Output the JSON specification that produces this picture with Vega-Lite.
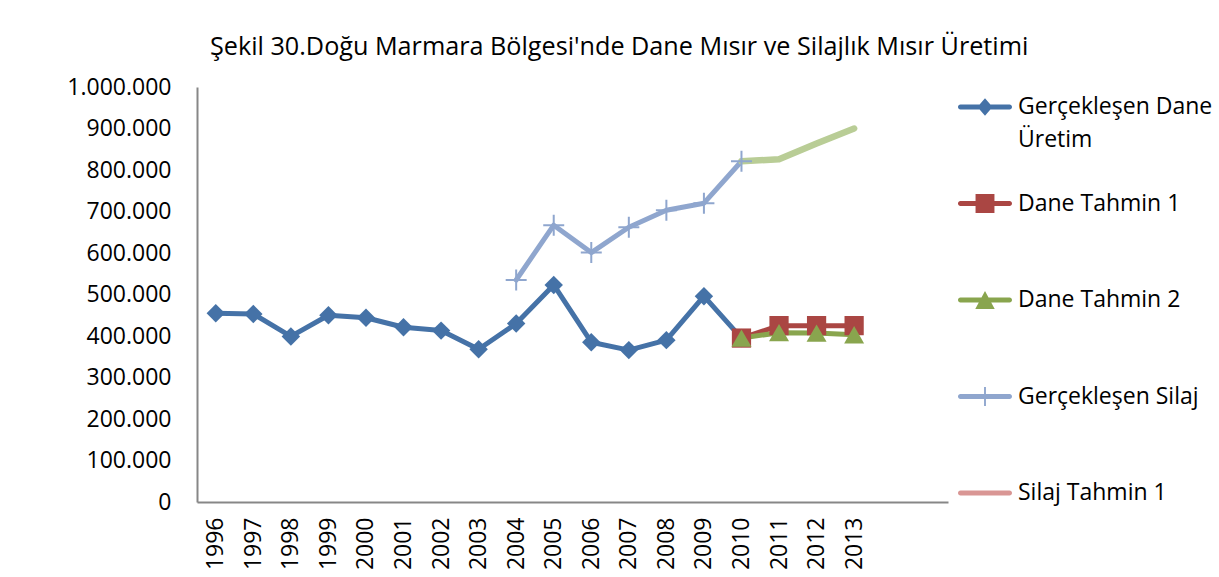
{
  "$schema": "https://vega.github.io/schema/vega-lite/v6.json",
  "width": 751,
  "height": 415,
  "autosize": {"type": "none"},
  "padding": {"left": 197, "top": 87, "right": 271, "bottom": 75},
  "background": "white",
  "title": {
    "text": "Şekil 30.Doğu Marmara Bölgesi'nde Dane Mısır ve Silajlık Mısır  Üretimi",
    "anchor": "start",
    "frame": "group",
    "dx": 13,
    "offset": 16,
    "font": "Open Sans",
    "fontSize": 25.2,
    "fontWeight": "normal",
    "color": "#000000"
  },
  "config": {
    "view": {"stroke": null},
    "font": "Open Sans",
    "locale": {"number": {"decimal": ",", "thousands": ".", "grouping": [3], "currency": ["", " TL"]}}
  },
  "data": {
    "values": [
      {"year": "1996", "series": "Gerçekleşen Dane Üretim", "value": 455000},
      {"year": "1997", "series": "Gerçekleşen Dane Üretim", "value": 453000},
      {"year": "1998", "series": "Gerçekleşen Dane Üretim", "value": 399000},
      {"year": "1999", "series": "Gerçekleşen Dane Üretim", "value": 450000},
      {"year": "2000", "series": "Gerçekleşen Dane Üretim", "value": 444000},
      {"year": "2001", "series": "Gerçekleşen Dane Üretim", "value": 421000},
      {"year": "2002", "series": "Gerçekleşen Dane Üretim", "value": 413000},
      {"year": "2003", "series": "Gerçekleşen Dane Üretim", "value": 368000},
      {"year": "2004", "series": "Gerçekleşen Dane Üretim", "value": 430000},
      {"year": "2005", "series": "Gerçekleşen Dane Üretim", "value": 523000},
      {"year": "2006", "series": "Gerçekleşen Dane Üretim", "value": 385000},
      {"year": "2007", "series": "Gerçekleşen Dane Üretim", "value": 366000},
      {"year": "2008", "series": "Gerçekleşen Dane Üretim", "value": 390000},
      {"year": "2009", "series": "Gerçekleşen Dane Üretim", "value": 496000},
      {"year": "2010", "series": "Gerçekleşen Dane Üretim", "value": 395000},
      {"year": "2010", "series": "Dane Tahmin 1", "value": 395000},
      {"year": "2011", "series": "Dane Tahmin 1", "value": 425000},
      {"year": "2012", "series": "Dane Tahmin 1", "value": 425000},
      {"year": "2013", "series": "Dane Tahmin 1", "value": 425000},
      {"year": "2010", "series": "Dane Tahmin 2", "value": 395000},
      {"year": "2011", "series": "Dane Tahmin 2", "value": 408000},
      {"year": "2012", "series": "Dane Tahmin 2", "value": 407000},
      {"year": "2013", "series": "Dane Tahmin 2", "value": 403000},
      {"year": "2004", "series": "Gerçekleşen Silaj", "value": 535000},
      {"year": "2005", "series": "Gerçekleşen Silaj", "value": 667000},
      {"year": "2006", "series": "Gerçekleşen Silaj", "value": 601000},
      {"year": "2007", "series": "Gerçekleşen Silaj", "value": 662000},
      {"year": "2008", "series": "Gerçekleşen Silaj", "value": 703000},
      {"year": "2009", "series": "Gerçekleşen Silaj", "value": 720000},
      {"year": "2010", "series": "Gerçekleşen Silaj", "value": 821000},
      {"year": "2010", "series": "Silaj Tahmin 1", "value": 821000},
      {"year": "2011", "series": "Silaj Tahmin 1", "value": 826000},
      {"year": "2012", "series": "Silaj Tahmin 1", "value": 864000},
      {"year": "2013", "series": "Silaj Tahmin 1", "value": 900000},
      {"year": "2010", "series": "Silaj Tahmin 2", "value": 821000},
      {"year": "2011", "series": "Silaj Tahmin 2", "value": 826000},
      {"year": "2012", "series": "Silaj Tahmin 2", "value": 864000},
      {"year": "2013", "series": "Silaj Tahmin 2", "value": 900000}
    ]
  },
  "encoding": {
    "x": {
      "field": "year",
      "type": "ordinal",
      "scale": {
        "type": "point",
        "padding": 0.5,
        "domain": ["1996","1997","1998","1999","2000","2001","2002","2003","2004","2005","2006","2007","2008","2009","2010","2011","2012","2013","2014","2015"]
      },
      "axis": {
        "title": null,
        "values": ["1996","1997","1998","1999","2000","2001","2002","2003","2004","2005","2006","2007","2008","2009","2010","2011","2012","2013"],
        "labelAngle": -90,
        "labelFont": "Open Sans",
        "labelFontSize": 23,
        "labelColor": "#000000",
        "labelPadding": 15,
        "ticks": false,
        "domainColor": "#878787",
        "domainWidth": 2,
        "grid": false
      }
    },
    "y": {
      "field": "value",
      "type": "quantitative",
      "scale": {"domain": [0, 1000000], "nice": false},
      "axis": {
        "title": null,
        "values": [0,100000,200000,300000,400000,500000,600000,700000,800000,900000,1000000],
        "format": ",d",
        "labelFont": "Open Sans",
        "labelFontSize": 23,
        "labelColor": "#000000",
        "labelPadding": 26,
        "ticks": false,
        "domainColor": "#878787",
        "domainWidth": 2,
        "grid": false
      }
    },
    "color": {
      "field": "series",
      "type": "nominal",
      "scale": {
        "domain": ["Gerçekleşen Dane Üretim", "Dane Tahmin 1", "Dane Tahmin 2", "Gerçekleşen Silaj", "Silaj Tahmin 1", "Silaj Tahmin 2"],
        "range": ["#4572A7", "#AA4643", "#89A54E", "#8FA6CE", "#D99694", "#B9CD96"]
      },
      "legend": {
        "orient": "none",
        "legendX": 761,
        "legendY": -7,
        "title": null,
        "values": ["Gerçekleşen Dane Üretim", "Dane Tahmin 1", "Dane Tahmin 2", "Gerçekleşen Silaj", "Silaj Tahmin 1"],
        "labelFont": "Open Sans",
        "labelFontSize": 23,
        "labelColor": "#000000",
        "labelLimit": 400,
        "labelOffset": 6,
        "symbolSize": 2916,
        "rowPadding": 24.5,
        "labelExpr": "datum.label == 'Gerçekleşen Dane Üretim' ? ['Gerçekleşen Dane', 'Üretim'] : [datum.label, '']",
        "encode": {
          "labels": {
            "update": {
              "lineHeight": {"value": 33}
            }
          },
          "symbols": {
            "update": {
              "shape": {"signal": "datum.value == 'Gerçekleşen Dane Üretim' ? 'M-0.91,-0.09H0.91A0.09,0.09 0 0 1 0.91,0.09H-0.91A0.09,0.09 0 0 1 -0.91,-0.09Z M0,-0.32L0.28,0L0,0.32L-0.28,0Z' : datum.value == 'Dane Tahmin 1' ? 'M-0.91,-0.09H0.91A0.09,0.09 0 0 1 0.91,0.09H-0.91A0.09,0.09 0 0 1 -0.91,-0.09Z M-0.35,-0.35H0.35V0.35H-0.35Z' : datum.value == 'Dane Tahmin 2' ? 'M-0.91,-0.09H0.91A0.09,0.09 0 0 1 0.91,0.09H-0.91A0.09,0.09 0 0 1 -0.91,-0.09Z M0,-0.33L0.36,0.33H-0.36Z' : datum.value == 'Gerçekleşen Silaj' ? 'M-0.91,-0.09H0.91A0.09,0.09 0 0 1 0.91,0.09H-0.91A0.09,0.09 0 0 1 -0.91,-0.09Z M-0.035,-0.35H0.035V0.35H-0.035Z' : 'M-0.91,-0.09H0.91A0.09,0.09 0 0 1 0.91,0.09H-0.91A0.09,0.09 0 0 1 -0.91,-0.09Z'"},
              "fill": {"scale": "color", "field": "value"},
              "stroke": {"value": "transparent"},
              "strokeWidth": {"value": 0},
              "opacity": {"value": 1},
              "fillOpacity": {"value": 1}
            }
          }
        }
      }
    }
  },
  "layer": [
    {
      "transform": [{"filter": {"not": {"field": "series", "equal": "Silaj Tahmin 2"}}}],
      "mark": {"type": "line", "strokeWidth": 5, "strokeCap": "round", "strokeJoin": "round"}
    },
    {
      "transform": [{"filter": {"field": "series", "equal": "Silaj Tahmin 2"}}],
      "mark": {"type": "line", "strokeWidth": 6.5, "strokeCap": "round", "strokeJoin": "round"}
    },
    {
      "transform": [{"filter": {"field": "series", "oneOf": ["Gerçekleşen Dane Üretim", "Dane Tahmin 1", "Dane Tahmin 2"]}}],
      "mark": {"type": "point", "filled": true, "opacity": 1},
      "encoding": {
        "shape": {
          "field": "series",
          "type": "nominal",
          "scale": {
            "domain": ["Gerçekleşen Dane Üretim", "Dane Tahmin 1", "Dane Tahmin 2"],
            "range": ["diamond", "square", "triangle-up"]
          },
          "legend": null
        },
        "size": {
          "field": "series",
          "type": "nominal",
          "scale": {
            "domain": ["Gerçekleşen Dane Üretim", "Dane Tahmin 1", "Dane Tahmin 2"],
            "range": [340, 400, 330]
          },
          "legend": null
        }
      }
    },
    {
      "transform": [{"filter": {"field": "series", "equal": "Gerçekleşen Silaj"}}],
      "mark": {"type": "point", "filled": false, "opacity": 1, "shape": "M-1,0H1M0,-1V1", "size": 440, "strokeWidth": 2}
    }
  ]
}
